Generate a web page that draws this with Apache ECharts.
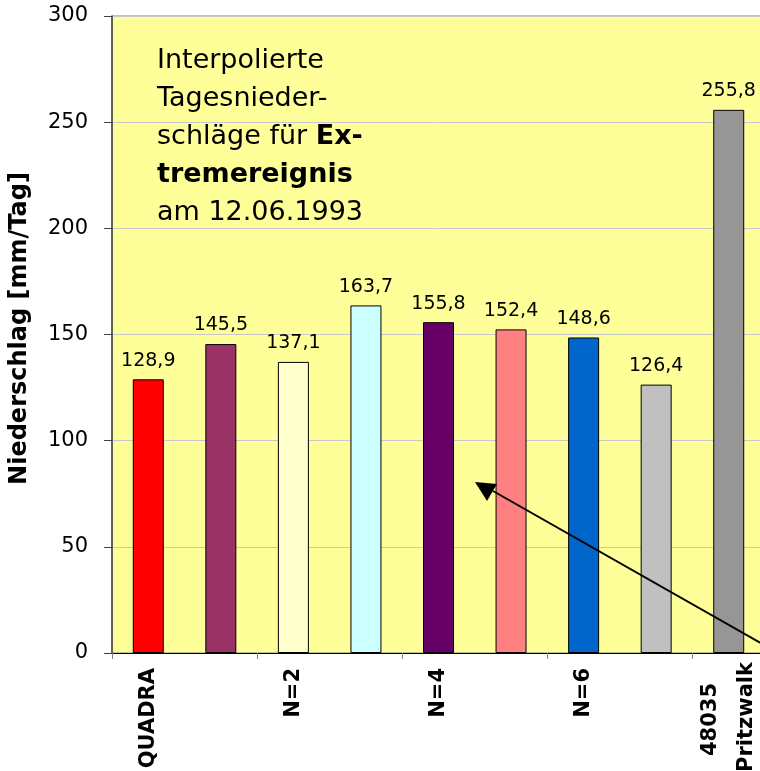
<!DOCTYPE html>
<html>
<head>
<meta charset="utf-8">
<script src="https://cdn.jsdelivr.net/npm/echarts@6/dist/echarts.min.js"></script>
<style>
html,body{margin:0;padding:0;background:#fff;}
#chart{width:760px;height:771px;}
</style>
</head>
<body>
<div id="chart"></div>
<script>
const categories = ['QUADRA', 'N=1', 'N=2', 'N=3', 'N=4', 'N=5', 'N=6', 'N=7', '48035\nPritzwalk'];
const values = [128.9, 145.5, 137.1, 163.7, 155.8, 152.4, 148.6, 126.4, 255.8];
const barColors = ['#FF0000', '#993366', '#FFFFCC', '#CCFFFF', '#660066', '#FF8080', '#0066CC', '#C0C0C0', '#969696'];
const yTicks = [0, 50, 100, 150, 200, 250, 300];
const yAxisTitle = 'Niederschlag [mm/Tag]';

const chart = echarts.init(document.getElementById('chart'), null, {renderer: 'canvas'});
const font = 'DejaVu Sans';

const labelStyle = {fontFamily: font, fontWeight: 'bold', fontSize: 21, color: '#000', lineHeight: 36};

chart.setOption({
  animation: false,
  backgroundColor: '#ffffff',
  grid: {
    left: 112, top: 16, width: 653, height: 637,
    containLabel: false,
    outerBoundsMode: 'none',
    show: true, backgroundColor: '#FFFF99', borderColor: '#808080', borderWidth: 1
  },
  xAxis: {
    type: 'category',
    data: categories,
    axisLine: {show: true, lineStyle: {color: '#000000', width: 1}},
    axisTick: {show: true, length: 6, lineStyle: {color: '#808080'}},
    axisLabel: {
      interval: 1, rotate: 90, margin: 9,
      fontFamily: font, fontWeight: 'bold', fontSize: 21, color: '#000', lineHeight: 36,
      formatter: function (v) {
        if (v.indexOf('\n') >= 0) {
          const parts = v.split('\n');
          return '{a|' + parts[0] + '}\n{b|' + parts[1] + '}';
        }
        return '{c|' + v + '}';
      },
      rich: {
        a: Object.assign({padding: [0, 21, 0, 0]}, labelStyle),
        b: Object.assign({}, labelStyle),
        c: Object.assign({padding: [0, 6, 0, 0]}, labelStyle)
      }
    },
    splitLine: {show: false}
  },
  yAxis: {
    type: 'value',
    min: yTicks[0], max: yTicks[yTicks.length - 1], interval: 50,
    name: yAxisTitle,
    nameLocation: 'middle',
    nameRotate: 90,
    nameGap: 80,
    nameTextStyle: {fontFamily: font, fontWeight: 'bold', fontSize: 24, color: '#000', padding: [0, 0, 0, 12]},
    axisLine: {show: true, lineStyle: {color: '#404040', width: 1.5}},
    axisTick: {show: true, inside: false, length: 8, lineStyle: {color: '#404040'}},
    axisLabel: {fontFamily: font, fontSize: 21, color: '#000', margin: 24},
    splitLine: {show: true, lineStyle: {color: '#C8C8C8', width: 1}}
  },
  series: [{
    type: 'bar',
    data: values.map((v, i) => ({value: v, itemStyle: {color: barColors[i]}})),
    barWidth: 31,
    itemStyle: {borderColor: '#000000', borderWidth: 1},
    label: {
      show: true, position: 'top', distance: 9,
      fontFamily: font, fontSize: 19, color: '#000',
      formatter: p => String(p.value).replace('.', ',')
    }
  }],
  graphic: [
    {
      type: 'text', left: 157, top: 47, z: 10,
      style: {
        text: '{n|Interpolierte}\n{n|Tagesnieder-}\n{n|schläge für }{b|Ex-}\n{b|tremereignis}\n{n|am 12.06.1993}',
        rich: {
          n: {fontFamily: font, fontSize: 27, lineHeight: 38, fill: '#000'},
          b: {fontFamily: font, fontSize: 27, fontWeight: 'bold', lineHeight: 38, fill: '#000'}
        }
      }
    },
    {
      type: 'polyline', z: 10,
      shape: {points: [[493, 491], [780, 654]]},
      style: {stroke: '#000', lineWidth: 2, fill: null}
    },
    {
      type: 'polygon', z: 10,
      shape: {points: [[475, 482], [497, 484], [487, 501]]},
      style: {fill: '#000'}
    }
  ]
});
</script>
</body>
</html>
